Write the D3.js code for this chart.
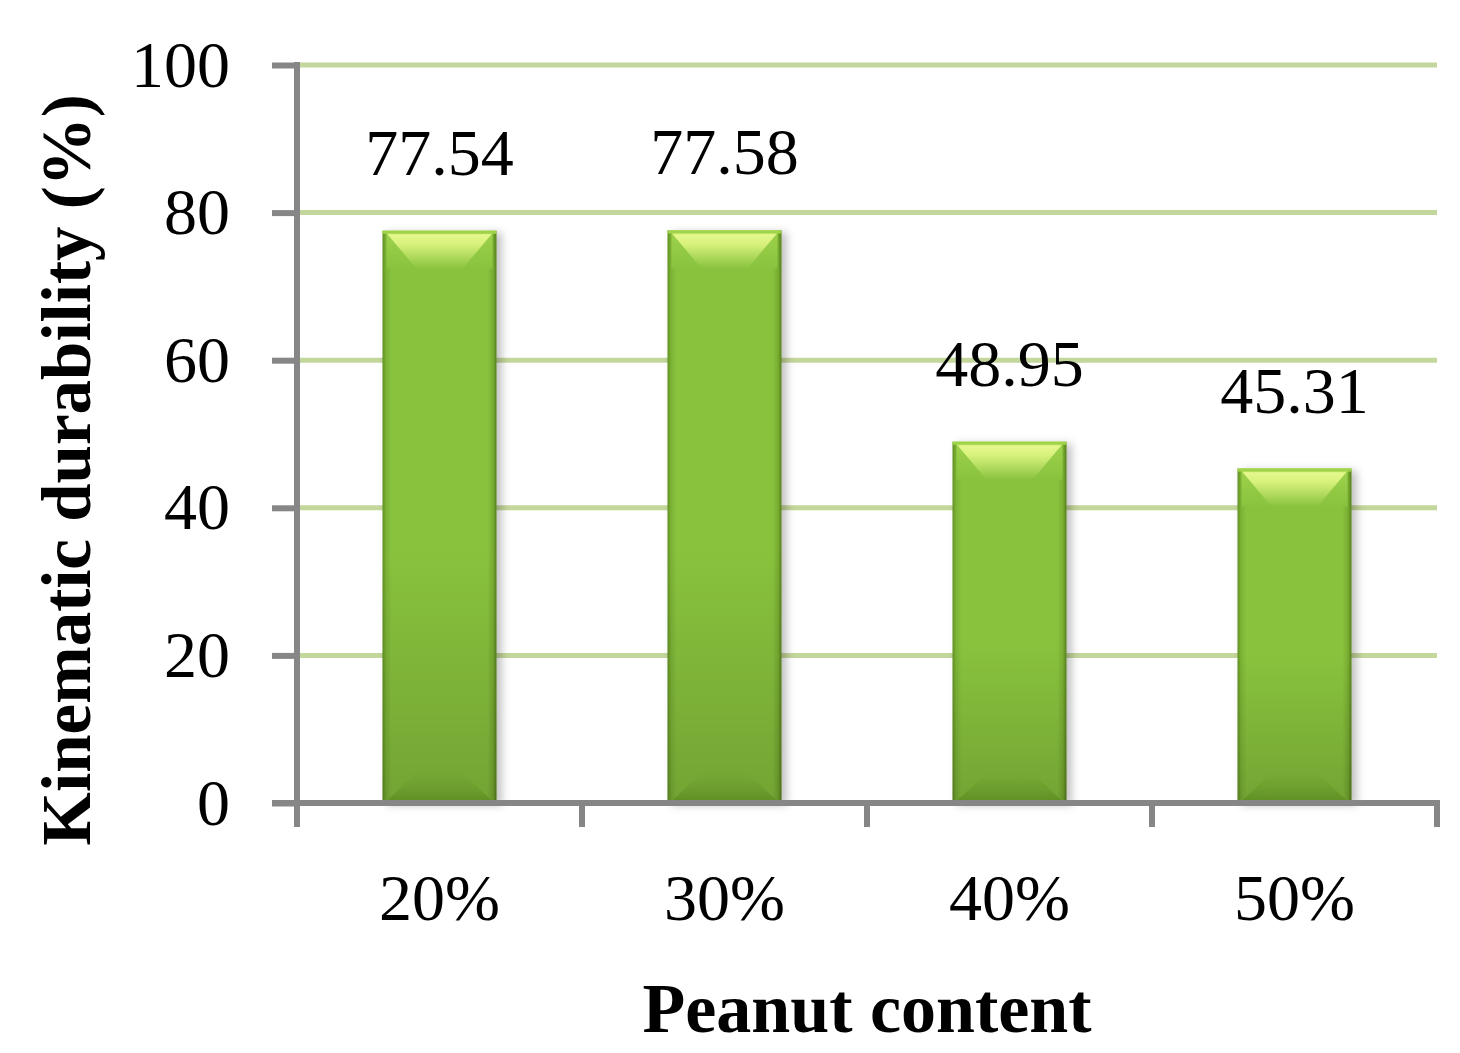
<!DOCTYPE html>
<html><head><meta charset="utf-8">
<script src="https://cdn.jsdelivr.net/npm/d3@7"></script>
<style>html,body{margin:0;padding:0;background:#fff;}svg{display:block;}</style>
</head><body>
<script>
const categories = ["20%", "30%", "40%", "50%"];
const values = [77.54, 77.58, 48.95, 45.31];
const valueLabels = ["77.54", "77.58", "48.95", "45.31"];
const yTicks = [0, 20, 40, 60, 80, 100];
const xTitle = "Peanut content";
const yTitle = "Kinematic durability (%)";

const W = 1460, H = 1053;
const svg = d3.select("body").append("svg").attr("width", W).attr("height", H);
const font = "'Liberation Serif', 'Times New Roman', serif";

const x = d3.scaleBand().domain(categories).range([297, 1437]).paddingInner(0.6).paddingOuter(0.3);
const xb = d3.scaleBand().domain(categories).range([297, 1437]);
const y = d3.scaleLinear().domain([0, 100]).range([803, 65]);

const defs = svg.append("defs");
function grad(id, vertical, stops) {
  const g = defs.append("linearGradient").attr("id", id)
    .attr("x1", 0).attr("y1", 0).attr("x2", vertical ? 0 : 1).attr("y2", vertical ? 1 : 0);
  stops.forEach(s => g.append("stop").attr("offset", s[0]).attr("stop-color", s[1]).attr("stop-opacity", s[2] == null ? 1 : s[2]));
}
grad("hg", false, [[0, "#5f8f22"], [0.03, "#7bb234"], [0.08, "#89c33e"], [0.92, "#89c33e"], [0.97, "#78ad32"], [1, "#557f1c"]]);
grad("vg", true, [[0, "#000", 0], [0.55, "#000", 0], [1, "#000", 0.16]]);
grad("tg", true, [[0, "#b8e35c"], [0.12, "#e4f78c"], [0.35, "#d8f27c"], [1, "#89c33e"]]);
grad("sg", true, [[0, "#9fd24c"], [1, "#89c33e"]]);
grad("bg", true, [[0, "#6d9f2a", 0], [0.5, "#67982a", 0.6], [1, "#5b8a1f", 0.9]]);
const f = defs.append("filter").attr("id", "sh").attr("x", "-20%").attr("y", "-10%").attr("width", "140%").attr("height", "120%");
f.append("feDropShadow").attr("dx", 5).attr("dy", 2).attr("stdDeviation", 4).attr("flood-color", "#000").attr("flood-opacity", 0.25);

// gridlines
svg.append("g").selectAll("line").data(yTicks.filter(d => d > 0)).join("line")
  .attr("x1", 297).attr("x2", 1437).attr("y1", d => y(d)).attr("y2", d => y(d))
  .attr("stroke", "#c3d69b").attr("stroke-width", 5);

// bars
const bars = svg.append("g").selectAll("g").data(categories).join("g");
bars.each(function(c, i) {
  const g = d3.select(this);
  const x0 = x(c), bw = x.bandwidth(), y0 = y(values[i]), y1 = y(0), bev = 38, bx = 34;
  g.append("rect").attr("x", x0).attr("y", y0).attr("width", bw).attr("height", y1 - y0)
    .attr("fill", "url(#hg)").attr("filter", "url(#sh)");
  g.append("rect").attr("x", x0).attr("y", y0).attr("width", bw).attr("height", y1 - y0)
    .attr("fill", "url(#vg)");
  g.append("path").attr("d", `M${x0 + 4},${y0}L${x0 + bx},${y0 + bev}L${x0 + 4},${y0 + bev}Z`).attr("fill", "url(#sg)");
  g.append("path").attr("d", `M${x0 + bw - 4},${y0}L${x0 + bw - bx},${y0 + bev}L${x0 + bw - 4},${y0 + bev}Z`).attr("fill", "url(#sg)");
  g.append("path").attr("d", `M${x0 + 2},${y0}L${x0 + bw - 2},${y0}L${x0 + bw - bx},${y0 + bev}L${x0 + bx},${y0 + bev}Z`)
    .attr("fill", "url(#tg)");
  g.append("rect").attr("x", x0).attr("y", y0).attr("width", bw).attr("height", 3).attr("fill", "#9fd44a");
  g.append("path").attr("d", `M${x0 + 2},${y1}L${x0 + bw - 2},${y1}L${x0 + bw - bx},${y1 - 30}L${x0 + bx},${y1 - 30}Z`)
    .attr("fill", "url(#bg)");
  g.append("text").attr("x", x0 + bw / 2).attr("y", y0 - 56).attr("text-anchor", "middle")
    .attr("font-family", font).attr("font-size", 66).attr("fill", "#000").text(valueLabels[i]);
});

// axes
const yAxis = svg.append("g").attr("transform", "translate(297,0)")
  .call(d3.axisLeft(y).tickValues(yTicks).tickSize(25).tickPadding(42).tickSizeOuter(0));
const xAxis = svg.append("g").attr("transform", `translate(0,${y(0)})`)
  .call(d3.axisBottom(xb).tickValues([]).tickSizeOuter(0));
[yAxis, xAxis].forEach(a => {
  a.select(".domain").attr("stroke", "#868686").attr("stroke-width", 6);
  a.selectAll(".tick line").attr("stroke", "#868686").attr("stroke-width", 6);
});
yAxis.selectAll(".tick text").attr("font-family", font).attr("font-size", 66).attr("fill", "#000").attr("dy", "0.32em");
yAxis.select(".domain").attr("d", `M0,${y(100) - 3}V${y(0) + 3}`);
const bounds = categories.map(c => xb(c)).concat([xb(categories[3]) + xb.bandwidth()]);
svg.append("g").selectAll("line").data(bounds).join("line")
  .attr("x1", d => d).attr("x2", d => d).attr("y1", y(0)).attr("y2", y(0) + 24)
  .attr("stroke", "#868686").attr("stroke-width", 6);
xAxis.select(".domain").attr("d", `M272,0H${1437 + 3}`);
svg.append("g").selectAll("text").data(categories).join("text")
  .attr("x", d => xb(d) + xb.bandwidth() / 2).attr("y", 920).attr("text-anchor", "middle")
  .attr("font-family", font).attr("font-size", 66).attr("fill", "#000").text(d => d);

// titles
svg.append("text").attr("x", 867).attr("y", 1032).attr("text-anchor", "middle")
  .attr("font-family", font).attr("font-weight", "bold").attr("font-size", 70).attr("fill", "#000").text(xTitle);
svg.append("text").attr("transform", "translate(90,470) rotate(-90)").attr("text-anchor", "middle")
  .attr("font-family", font).attr("font-weight", "bold").attr("font-size", 69).attr("fill", "#000").text(yTitle);
</script>
</body></html>
